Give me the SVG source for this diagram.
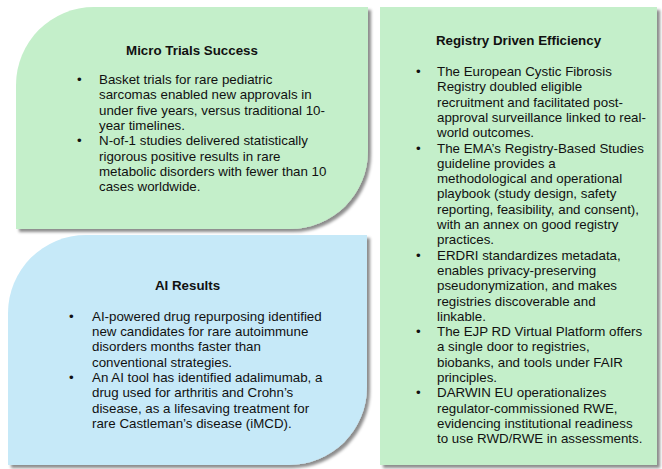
<svg xmlns="http://www.w3.org/2000/svg" width="662" height="469" viewBox="0 0 662 469">
<defs>
<filter id="sh" x="-10%" y="-10%" width="120%" height="120%">
<feDropShadow dx="3" dy="3" stdDeviation="1.6" flood-color="#000" flood-opacity="0.45"/>
</filter>
<style>
.t{font-family:"Liberation Sans",Arial,sans-serif;font-size:13.33px;fill:#111;}
.h{font-weight:bold;text-anchor:middle;}
.g{fill:#C4EFCA;filter:url(#sh);}
.b{fill:#C6E9F8;filter:url(#sh);}
</style>
</defs>
<rect width="662" height="469" fill="#fff"/>
<g id="micro-trials">
<path class="g" d="M94,7 H368 V151 A78,78 0 0 1 290,229 H16 V85 A78,78 0 0 1 94,7 Z"/>
<text class="t h" x="192" y="55">Micro Trials Success</text>
<text class="t">
<tspan x="77" y="84">•</tspan>
<tspan x="99" y="84">Basket trials for rare pediatric</tspan>
<tspan x="99" y="99.3">sarcomas enabled new approvals in</tspan>
<tspan x="99" y="114.6">under five years, versus traditional 10-</tspan>
<tspan x="99" y="129.9">year timelines.</tspan>
<tspan x="77" y="145.2">•</tspan>
<tspan x="99" y="145.2">N-of-1 studies delivered statistically</tspan>
<tspan x="99" y="160.5">rigorous positive results in rare</tspan>
<tspan x="99" y="175.8">metabolic disorders with fewer than 10</tspan>
<tspan x="99" y="191.1">cases worldwide.</tspan>
</text>
</g>
<g id="ai-results">
<path class="b" d="M86,235 H367 V387 A78,78 0 0 1 289,465 H8 V313 A78,78 0 0 1 86,235 Z"/>
<text class="t h" x="187.5" y="290">AI Results</text>
<text class="t">
<tspan x="69" y="320.7">•</tspan>
<tspan x="92" y="320.7">AI-powered drug repurposing identified</tspan>
<tspan x="92" y="336">new candidates for rare autoimmune</tspan>
<tspan x="92" y="351.3">disorders months faster than</tspan>
<tspan x="92" y="366.6">conventional strategies.</tspan>
<tspan x="69" y="381.9">•</tspan>
<tspan x="92" y="381.9">An AI tool has identified adalimumab, a</tspan>
<tspan x="92" y="397.2">drug used for arthritis and Crohn’s</tspan>
<tspan x="92" y="412.5">disease, as a lifesaving treatment for</tspan>
<tspan x="92" y="427.8">rare Castleman’s  disease (iMCD).</tspan>
</text>
</g>
<g id="registry-efficiency">
<rect class="g" x="380" y="7" width="277" height="458"/>
<text class="t h" x="518.5" y="45">Registry Driven Efficiency</text>
<text class="t">
<tspan x="416" y="76">•</tspan>
<tspan x="437" y="76">The European Cystic Fibrosis</tspan>
<tspan x="437" y="91.3">Registry doubled eligible</tspan>
<tspan x="437" y="106.6">recruitment and facilitated post-</tspan>
<tspan x="437" y="121.9">approval surveillance linked to real-</tspan>
<tspan x="437" y="137.2">world outcomes.</tspan>
<tspan x="416" y="152.5">•</tspan>
<tspan x="437" y="152.5">The EMA’s Registry-Based Studies</tspan>
<tspan x="437" y="167.8">guideline provides a</tspan>
<tspan x="437" y="183.1">methodological and operational</tspan>
<tspan x="437" y="198.4">playbook (study design, safety</tspan>
<tspan x="437" y="213.7">reporting, feasibility, and consent),</tspan>
<tspan x="437" y="229">with an annex on good registry</tspan>
<tspan x="437" y="244.3">practices.</tspan>
<tspan x="416" y="259.6">•</tspan>
<tspan x="437" y="259.6">ERDRI standardizes metadata,</tspan>
<tspan x="437" y="274.9">enables privacy-preserving</tspan>
<tspan x="437" y="290.2">pseudonymization, and makes</tspan>
<tspan x="437" y="305.5">registries discoverable and</tspan>
<tspan x="437" y="320.8">linkable.</tspan>
<tspan x="416" y="336.1">•</tspan>
<tspan x="437" y="336.1">The EJP RD Virtual Platform offers</tspan>
<tspan x="437" y="351.4">a single door to registries,</tspan>
<tspan x="437" y="366.7">biobanks, and tools under FAIR</tspan>
<tspan x="437" y="382">principles.</tspan>
<tspan x="416" y="397.3">•</tspan>
<tspan x="437" y="397.3">DARWIN EU operationalizes</tspan>
<tspan x="437" y="412.6">regulator-commissioned RWE,</tspan>
<tspan x="437" y="427.9">evidencing institutional readiness</tspan>
<tspan x="437" y="443.2">to use RWD/RWE in assessments.</tspan>
</text>
</g>
<g id="connectors"/>
</svg>
